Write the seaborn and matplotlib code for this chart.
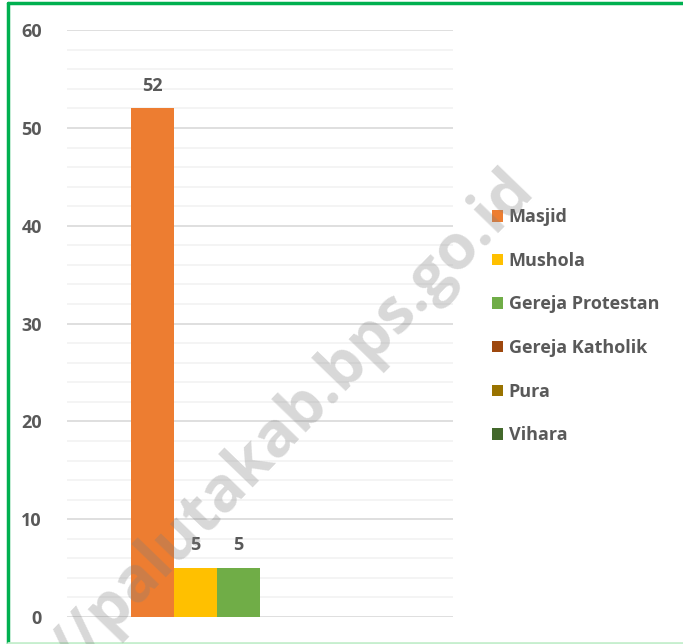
import pandas as pd
import seaborn as sns
import matplotlib.pyplot as plt
from matplotlib.lines import Line2D
from matplotlib.patches import Patch

tempat = ["Masjid", "Mushola", "Gereja Protestan", "Gereja Katholik", "Pura", "Vihara"]
jumlah = [52, 5, 5, 0, 0, 0]
warna = ["#ED7D31", "#FFC000", "#70AD47", "#9E480E", "#997300", "#43682B"]

df = pd.DataFrame({"kategori": ["Palu"] * len(tempat), "tempat": tempat, "jumlah": jumlah})

sns.set_style("white")
plt.rcParams["font.family"] = ["Open Sans", "DejaVu Sans"]
plt.rcParams["font.weight"] = "bold"

fig = plt.figure(figsize=(6.83, 6.44), dpi=100)
ax = fig.add_axes([0.098, 0.042, 0.565, 0.911])

sns.barplot(data=df, x="kategori", y="jumlah", hue="tempat", palette=warna,
            saturation=1, width=0.668, linewidth=0, legend=False, ax=ax, zorder=3)

for c, v in zip(ax.containers, jumlah):
    if v > 0:
        ax.bar_label(c, labels=[str(v)], padding=10, fontsize=13,
                     fontweight="bold", color="#595959")

ax.set_ylim(0, 60)
ax.set_xlim(-0.5, 0.5)
ax.set_yticks(range(0, 61, 10))
ax.set_yticks(range(0, 61, 2), minor=True)
ax.yaxis.grid(True, which="major", color="#D9D9D9", linewidth=1.2, zorder=0)
ax.yaxis.grid(True, which="minor", color="#F2F2F2", linewidth=1.2, zorder=0)
ax.set_axisbelow(True)
ax.tick_params(axis="y", which="both", length=0, pad=18, labelsize=13,
               labelcolor="#595959")
ax.set_xticks([])
ax.set_xlabel("")
ax.set_ylabel("")
for s in ax.spines.values():
    s.set_visible(False)

handles = [Patch(facecolor=w, edgecolor="none") for w in warna]
leg = fig.legend(handles, tempat, loc="upper left", bbox_to_anchor=(0.697, 0.702),
                 frameon=False, fontsize=13, handlelength=0.6, handleheight=0.6,
                 handletextpad=0.3, labelspacing=1.42, labelcolor="#595959")
for t in leg.get_texts():
    t.set_fontweight("bold")

# watermark
fig.text(0.43, 0.345, "//palutakab.bps.go.id", rotation=46, fontsize=45,
         fontweight="bold", color="#7F7F7F", alpha=0.3, ha="center", va="center",
         zorder=10)

# green frame
fig.add_artist(Line2D([0.011, 0.011], [0.0, 0.995], color="#00B050", linewidth=2.5))
fig.add_artist(Line2D([0.011, 1.0], [0.995, 0.995], color="#00B050", linewidth=2.5))
fig.add_artist(Line2D([0.011, 1.0], [0.002, 0.002], color="#C6EFCE", linewidth=2))

fig.savefig("out.png", dpi=100)
